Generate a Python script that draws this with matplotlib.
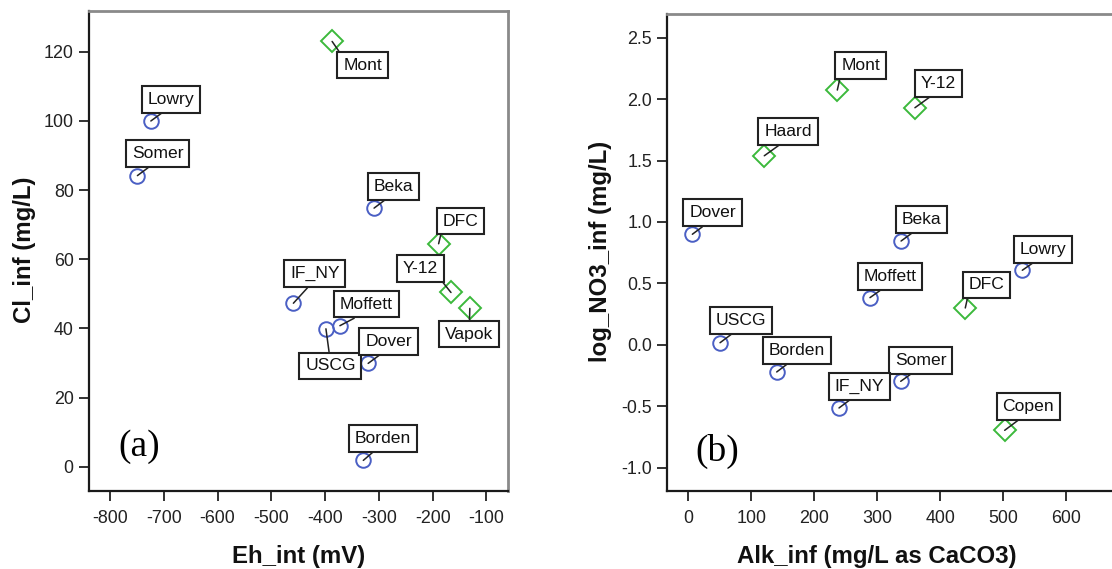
import matplotlib
matplotlib.use("Agg")
import matplotlib.pyplot as plt

plt.rcParams['font.family'] = ['Liberation Sans', 'DejaVu Sans']
plt.rcParams['axes.unicode_minus'] = False

# ---------------- data: panel (a) ----------------
a_sites = ["Mont", "Lowry", "Somer", "Beka", "DFC", "Y-12", "IF_NY",
           "Moffett", "USCG", "Dover", "Vapok", "Borden"]
a_eh = [-387, -724, -749, -309, -189, -166, -459, -372.5, -398.5, -320, -131, -329]
a_cl = [123, 100, 84.2, 74.8, 64.5, 50.4, 47.3, 40.8, 39.9, 29.9, 45.8, 1.85]
a_group = ["d", "o", "o", "o", "d", "d", "o", "o", "o", "o", "d", "o"]
a_xticks = [-800, -700, -600, -500, -400, -300, -200, -100]
a_yticks = [0, 20, 40, 60, 80, 100, 120]

# ---------------- data: panel (b) ----------------
b_sites = ["Mont", "Y-12", "Haard", "Dover", "Beka", "Lowry", "Moffett",
           "DFC", "USCG", "Borden", "Somer", "IF_NY", "Copen"]
b_alk = [236.7, 360, 120.7, 6.4, 338, 530.6, 288.6, 440, 50.4, 140.4, 337.4, 239.4, 502.6]
b_no3 = [2.074, 1.93, 1.539, 0.90, 0.845, 0.607, 0.384, 0.30, 0.017, -0.221, -0.297, -0.514, -0.696]
b_group = ["d", "d", "d", "o", "o", "o", "o", "d", "o", "o", "o", "o", "d"]
b_xticks = [0, 100, 200, 300, 400, 500, 600]
b_yticks = [-1.0, -0.5, 0.0, 0.5, 1.0, 1.5, 2.0, 2.5]

# ---------------- label layout (pixel offsets, relpos of leader) ----------------
a_layout = {
    "Mont": ((30.5, 23.6), (0, 1)), "Lowry": ((20.5, -21.7), (0.48, 0)),
    "Somer": ((20.5, -21.9), (0.48, 0)), "Beka": ((19.7, -21.7), (0.48, 0)),
    "DFC": ((21.6, -22.7), (0, 0)), "Y-12": ((-30.7, -23.8), (1, 0)),
    "IF_NY": ((21.5, -29.5), (0.47, 0)), "Moffett": ((26.7, -21.5), (0.5, 0)),
    "USCG": ((4.5, 37), (0.49, 1)), "Dover": ((20.4, -22.1), (0.49, 0)),
    "Vapok": ((-0.5, 25.7), (0.5, 1)), "Borden": ((19.7, -22), (0.45, 0)),
}
b_layout = {
    "Mont": ((23.2, -24.5), (0, 0)), "Y-12": ((23.7, -24.3), (0.49, 0)),
    "Haard": ((23.7, -24.5), (0.5, 0)), "Dover": ((20.2, -21.5), (0.47, 0)),
    "Beka": ((20.7, -21.7), (0.47, 0)), "Lowry": ((20.5, -21), (0.48, 0)),
    "Moffett": ((20.2, -21), (0.48, 0)), "DFC": ((21.4, -23), (0, 0)),
    "USCG": ((20.7, -22.2), (0.48, 0)), "Borden": ((20.3, -21.5), (0.47, 0)),
    "Somer": ((20.1, -21), (0.48, 0)), "IF_NY": ((20.2, -21.8), (0.48, 0)),
    "Copen": ((23.6, -24), (0.47, 0)),
}

BLUE = '#4a5fc4'
GREEN = '#3cb93c'

W, H = 1112, 569
fig = plt.figure(figsize=(W / 100, H / 100), dpi=100)


def px_axes(x0, y_top, x1, y_bot):
    return fig.add_axes([x0 / W, 1 - y_bot / H, (x1 - x0) / W, (y_bot - y_top) / H])


def style(ax, xticks, yticks, yfmt):
    ax.set_xticks(xticks)
    ax.set_yticks(yticks)
    ax.set_yticklabels([yfmt(v) for v in yticks])
    ax.tick_params(direction='out', length=7.5, width=1.3, labelsize=12.9,
                   colors='#222222', labelcolor='#222222')
    ax.tick_params(axis='x', pad=6)
    ax.tick_params(axis='y', pad=3.5)
    for s in ['left', 'bottom']:
        ax.spines[s].set_color('#1a1a1a')
        ax.spines[s].set_linewidth(1.6)
    for s in ['top', 'right']:
        ax.spines[s].set_color('#8a8a8a')
        ax.spines[s].set_linewidth(2.0)


def draw(ax, xs, ys, groups, sites, layout):
    for x, y, g, name in zip(xs, ys, groups, sites):
        if g == 'o':
            ax.plot(x, y, marker='o', ms=10.5, mfc='none', mec=BLUE, mew=1.4,
                    ls='none', zorder=3)
        else:
            ax.plot(x, y, marker='D', ms=10.8, mfc='none', mec=GREEN, mew=1.4,
                    ls='none', zorder=3)
        (dx, dy), rp = layout[name]
        ax.annotate(name, xy=(x, y), xytext=(dx, -dy), textcoords='offset pixels',
                    ha='center', va='center', fontsize=12.6, color='#111111',
                    bbox=dict(boxstyle='square,pad=0.33', fc='white', ec='#222222', lw=1.5),
                    arrowprops=dict(arrowstyle='-', color='#222222', lw=1.1,
                                    relpos=rp, shrinkA=0, shrinkB=0),
                    zorder=4)


# ---- panel (a)
ax1 = px_axes(89, 11, 508, 491)
ax1.set_xlim(-839, -60)
ax1.set_ylim(-7, 131.8)
style(ax1, a_xticks, a_yticks, lambda v: f"{v:d}")
draw(ax1, a_eh, a_cl, a_group, a_sites, a_layout)
ax1.text(0.119, 0.092, "(a)", transform=ax1.transAxes, ha='center', va='center',
         fontsize=27, family='Liberation Serif')

# ---- panel (b)
ax2 = px_axes(667.3, 14, 1120, 491)
ax2.set_xlim(-33.4, 685.8)
ax2.set_ylim(-1.19, 2.693)
style(ax2, b_xticks, b_yticks, lambda v: f"{v:.1f}")
draw(ax2, b_alk, b_no3, b_group, b_sites, b_layout)
ax2.text(0.110, 0.082, "(b)", transform=ax2.transAxes, ha='center', va='center',
         fontsize=27, family='Liberation Serif')

# axis titles
fig.text(299 / W, 1 - 556 / H, "Eh_int (mV)", ha='center', va='center',
         fontsize=17.3, fontweight='bold', color='#111111')
fig.text(876.7 / W, 1 - 556 / H, "Alk_inf (mg/L as CaCO3)", ha='center', va='center',
         fontsize=17.3, fontweight='bold', color='#111111')
fig.text(25 / W, 1 - 250 / H, "Cl_inf (mg/L)", ha='center', va='center', rotation=90,
         fontsize=17.3, fontweight='bold', color='#111111')
fig.text(600 / W, 1 - 251.5 / H, "log_NO3_inf (mg/L)", ha='center', va='center', rotation=90,
         fontsize=17.3, fontweight='bold', color='#111111')

fig.savefig("out.png", dpi=100, facecolor='white')
